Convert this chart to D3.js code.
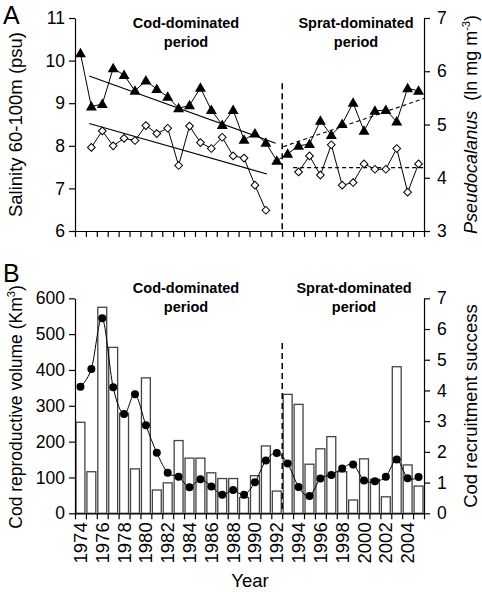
<!DOCTYPE html>
<html><head><meta charset="utf-8">
<script src="https://cdn.jsdelivr.net/npm/d3@7/dist/d3.min.js"></script>
<style>
body{margin:0;background:#fff}
text{font-family:"Liberation Sans",Arial,Helvetica,sans-serif;fill:#000}
</style>
</head><body>
<svg id="c" width="482" height="592"></svg>
<script>
// ---------- data ----------
const years = [1974,1975,1976,1977,1978,1979,1980,1981,1982,1983,1984,1985,1986,1987,1988,1989,
               1990,1991,1992,1993,1994,1995,1996,1997,1998,1999,2000,2001,2002,2003,2004,2005];
const salinity = [10.17,8.92,8.98,9.82,9.66,9.29,9.53,9.33,9.15,8.88,8.95,9.36,8.84,8.49,8.84,8.14,
                  8.29,8.07,7.65,7.81,8.00,8.04,8.59,8.25,8.51,9.01,8.35,8.82,8.84,8.57,9.35,9.29];
const pseudocalanus = [null,4.57,4.88,4.60,4.74,4.70,4.98,4.83,4.93,4.23,4.97,4.66,4.55,4.76,4.41,4.37,
                  3.86,3.39,null,null,4.11,4.41,4.05,4.62,3.86,3.91,4.26,4.16,4.16,4.55,3.73,4.26];
const reproVolume = [254,116,575,463,279,124,378,65,85,203,154,154,113,97,97,44,
                     105,188,62,332,304,137,180,214,116,37,152,95,46,409,135,76];
const recruitment = [4.12,4.70,6.35,4.10,3.23,3.88,2.87,1.97,1.32,1.19,0.85,1.11,0.87,0.60,0.76,0.60,
                     1.01,1.72,1.96,1.62,0.86,0.56,1.13,1.25,1.46,1.59,1.07,1.04,1.19,1.75,1.14,1.18];
// trend lines: [year position, value]
const salTrendCod   = [[1974.8, 9.64],[1991.9, 8.06]];
const salTrendSprat = [[1992.6, 7.98],[2005.5, 9.11]];
const psTrendCod    = [[1974.8, 5.02],[1991.1, 4.07]];
const psTrendSprat  = [[1993.5, 4.19],[2005.5, 4.19]];
const regimeShift = 1992.5;
const salTicks = [6,7,8,9,10,11];
const psTicks = [3,4,5,6,7];
const volTicks = [0,100,200,300,400,500,600];
const recTicks = [0,1,2,3,4,5,6,7];
const yearLabels = [1974,1976,1978,1980,1982,1984,1986,1988,1990,1992,1994,1996,1998,2000,2002,2004];

// ---------- layout ----------
const L = 75, R = 424;
const aTop = 18, aBot = 231;
const bTop = 298.3, bBot = 513.3;
const FS = 17.5, FT = 18;

const svg = d3.select("#c");
const xb = d3.scaleBand().domain(years).range([L, R]).padding(0);
const bw = xb.bandwidth();
const xc = d3.scaleLinear().domain([years[0]-0.5, years[years.length-1]+0.5]).range([L, R]);
const boundaries = years.map(y => y - 0.5).concat([years[years.length-1] + 0.5]);

const yA  = d3.scaleLinear().domain([6, 11]).range([aBot, aTop]);
const yA2 = d3.scaleLinear().domain([3, 7]).range([aBot, aTop]);
const yB  = d3.scaleLinear().domain([0, 600]).range([bBot, bTop]);
const yB2 = d3.scaleLinear().domain([0, 7]).range([bBot, bTop]);
const fmt = d3.format("d");

function styleAxis(g){
  g.selectAll("path,line").attr("stroke","#000").attr("stroke-width",1.2);
  g.selectAll("text").attr("font-size",FS).attr("font-family","Liberation Sans, Arial, sans-serif");
}

// ---------- Panel A ----------
svg.append("g").attr("transform",`translate(0,${aBot})`)
  .call(d3.axisBottom(xc).tickValues(boundaries).tickFormat("").tickSize(6).tickSizeOuter(0))
  .call(styleAxis);
svg.append("g").attr("transform",`translate(${L},0)`)
  .call(d3.axisLeft(yA).tickValues(salTicks).tickFormat(fmt).tickSize(6).tickSizeOuter(0).tickPadding(4))
  .call(styleAxis);
svg.append("g").attr("transform",`translate(${R},0)`)
  .call(d3.axisRight(yA2).tickValues(psTicks).tickFormat(fmt).tickSize(6).tickSizeOuter(0).tickPadding(7))
  .call(styleAxis);

// trend lines
const tl = d3.line().x(d => xc(d[0]));
svg.append("path").attr("d", tl.y(d => yA(d[1]))(salTrendCod)).attr("stroke","#000").attr("fill","none").attr("stroke-width",1.1);
svg.append("path").attr("d", tl.y(d => yA2(d[1]))(psTrendCod)).attr("stroke","#000").attr("fill","none").attr("stroke-width",1.1);
svg.append("path").attr("d", tl.y(d => yA(d[1]))(salTrendSprat)).attr("stroke","#000").attr("fill","none").attr("stroke-width",1.1).attr("stroke-dasharray","4,3");
svg.append("path").attr("d", tl.y(d => yA2(d[1]))(psTrendSprat)).attr("stroke","#000").attr("fill","none").attr("stroke-width",1.1).attr("stroke-dasharray","4,3");

// regime shift line A
svg.append("line").attr("x1",xc(regimeShift)).attr("x2",xc(regimeShift))
  .attr("y1",yA(9.47)).attr("y2",aBot).attr("stroke","#000").attr("stroke-width",1.5).attr("stroke-dasharray","6,4");

const cx = i => xb(years[i]) + bw/2;
svg.append("path").datum(salinity)
  .attr("d", d3.line().x((d,i)=>cx(i)).y(d=>yA(d)))
  .attr("fill","none").attr("stroke","#000").attr("stroke-width",1);
svg.append("path").datum(pseudocalanus)
  .attr("d", d3.line().defined(d=>d!=null).x((d,i)=>cx(i)).y(d=>yA2(d)))
  .attr("fill","none").attr("stroke","#000").attr("stroke-width",1);

const tri = d3.symbol().type(d3.symbolTriangle).size(52);
svg.append("g").selectAll("path").data(salinity).join("path")
  .attr("d", tri).attr("transform",(d,i)=>`translate(${cx(i)},${yA(d)+0.8})`)
  .attr("fill","#000");
const dia = d3.symbol().type(d3.symbolSquare).size(30);
svg.append("g").selectAll("path").data(pseudocalanus.map((v,i)=>({v,i})).filter(d=>d.v!=null)).join("path")
  .attr("d", dia).attr("transform",d=>`translate(${cx(d.i)},${yA2(d.v)}) rotate(45)`)
  .attr("fill","#fff").attr("stroke","#000").attr("stroke-width",1);

// ---------- Panel B ----------
svg.append("g").selectAll("rect").data(reproVolume).join("rect")
  .attr("x",(d,i)=>xb(years[i])+1).attr("width",bw-2)
  .attr("y",d=>yB(d)).attr("height",d=>bBot-yB(d))
  .attr("fill","#fff").attr("stroke","#444").attr("stroke-width",1.3);

svg.append("line").attr("x1",xc(regimeShift)).attr("x2",xc(regimeShift))
  .attr("y1",yB(475)).attr("y2",bBot).attr("stroke","#000").attr("stroke-width",1.5).attr("stroke-dasharray","6,4");

svg.append("path").datum(recruitment)
  .attr("d", d3.line().curve(d3.curveCardinal.tension(0)).x((d,i)=>cx(i)).y(d=>yB2(d)))
  .attr("fill","none").attr("stroke","#000").attr("stroke-width",1);
svg.append("g").selectAll("circle").data(recruitment).join("circle")
  .attr("cx",(d,i)=>cx(i)).attr("cy",d=>yB2(d)).attr("r",4).attr("fill","#000");

svg.append("g").attr("transform",`translate(0,${bBot})`)
  .call(d3.axisBottom(xc).tickValues(boundaries).tickFormat("").tickSize(6).tickSizeOuter(0))
  .call(styleAxis);
svg.append("g").attr("transform",`translate(${L},0)`)
  .call(d3.axisLeft(yB).tickValues(volTicks).tickFormat(fmt).tickSize(6).tickSizeOuter(0).tickPadding(4))
  .call(styleAxis);
svg.append("g").attr("transform",`translate(${R},0)`)
  .call(d3.axisRight(yB2).tickValues(recTicks).tickFormat(fmt).tickSize(6).tickSizeOuter(0).tickPadding(7))
  .call(styleAxis);

// year labels
svg.append("g").selectAll("text").data(yearLabels).join("text")
  .attr("transform",d=>`translate(${xb(d)+bw/2+6.5},${bBot+9}) rotate(-90)`)
  .attr("text-anchor","end").attr("font-size",18.5).text(d=>d);
svg.append("text").attr("x",250).attr("y",587).attr("text-anchor","middle").attr("font-size",18.5).text("Year");

// ---------- titles / labels ----------
function twoLine(xm, y, l1, l2){
  const t = svg.append("text").attr("text-anchor","middle").attr("font-size",14.5).attr("font-weight","bold");
  t.append("tspan").attr("x",xm).attr("y",y).text(l1);
  t.append("tspan").attr("x",xm).attr("y",y+19).text(l2);
}
twoLine(186, 28, "Cod-dominated", "period");
twoLine(356, 28, "Sprat-dominated", "period");
twoLine(186, 293, "Cod-dominated", "period");
twoLine(354, 293, "Sprat-dominated", "period");

svg.append("text").attr("x",3).attr("y",24).attr("font-size",25).text("A");
svg.append("text").attr("x",3).attr("y",282).attr("font-size",25).text("B");

svg.append("text").attr("transform",`translate(22,${(aTop+aBot)/2}) rotate(-90)`)
  .attr("text-anchor","middle").attr("font-size",18.5).text("Salinity 60-100m (psu)");
const lb = svg.append("text").attr("transform",`translate(22,407) rotate(-90)`)
  .attr("text-anchor","middle").attr("font-size",17.5);
lb.append("tspan").text("Cod reproductive volume (Km");
lb.append("tspan").attr("dy",-7).attr("font-size",11).text("3");
lb.append("tspan").attr("dy",7).text(")");

const rA = svg.append("text").attr("transform",`translate(477,${(aTop+aBot)/2}) rotate(-90)`)
  .attr("text-anchor","middle").attr("font-size",FT);
rA.append("tspan").attr("font-style","italic").text("Pseudocalanus");
rA.append("tspan").text("\u00a0 (ln mg m");
rA.append("tspan").attr("dy",-7).attr("font-size",11).text("-3");
rA.append("tspan").attr("dy",7).text(")");

svg.append("text").attr("transform",`translate(477,406) rotate(-90)`)
  .attr("text-anchor","middle").attr("font-size",18.5).text("Cod recruitment success");
</script>
</body></html>
